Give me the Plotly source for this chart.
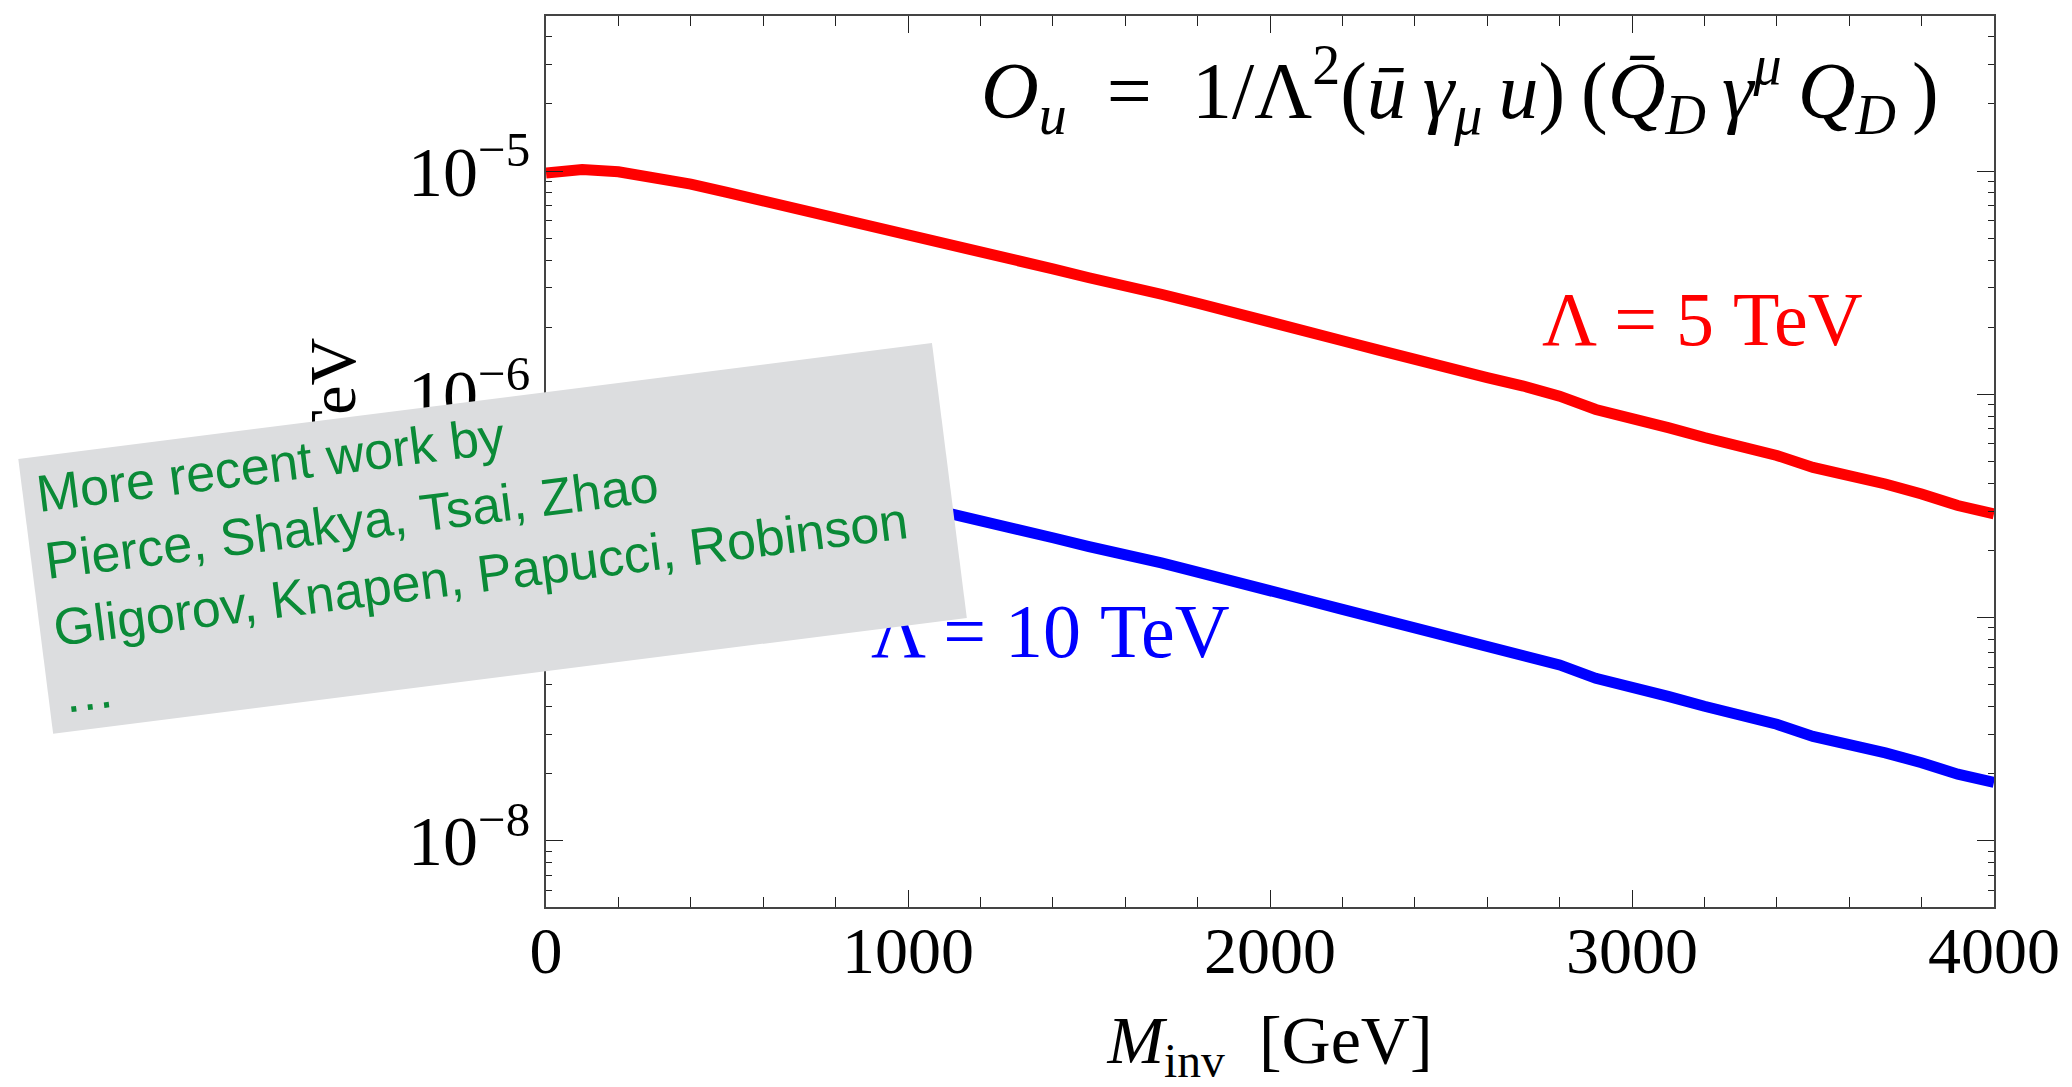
import plotly.graph_objects as go

# ---------------- data ----------------
m_inv = [0, 100, 200, 300, 400, 500, 600, 700, 800, 900, 1000,
         1100, 1200, 1300, 1400, 1500, 1600, 1700, 1800, 1900, 2000,
         2100, 2200, 2300, 2400, 2500, 2600, 2700, 2800, 2900, 3000,
         3100, 3200, 3300, 3400, 3500, 3600, 3700, 3800, 3900, 4000]

rate_5tev = [9.8e-6, 1.017e-5, 9.93e-6, 9.37e-6, 8.75e-6, 8.03e-6, 7.38e-6, 6.77e-6, 6.18e-6, 5.71e-6, 5.24e-6,
             4.76e-6, 4.34e-6, 3.97e-6, 3.65e-6, 3.33e-6, 3.08e-6, 2.81e-6, 2.56e-6, 2.31e-6, 2.12e-6,
             1.92e-6, 1.74e-6, 1.58e-6, 1.43e-6, 1.29e-6, 1.19e-6, 1.09e-6, 9.82e-7, 8.56e-7, 7.86e-7,
             7.10e-7, 6.41e-7, 5.85e-7, 5.33e-7, 4.71e-7, 4.37e-7, 3.97e-7, 3.58e-7, 3.18e-7, 2.92e-7]

rate_10tev = [6.13e-7, 6.36e-7, 6.21e-7, 5.86e-7, 5.47e-7, 5.02e-7, 4.61e-7, 4.23e-7, 3.86e-7, 3.57e-7, 3.28e-7,
              2.98e-7, 2.71e-7, 2.48e-7, 2.28e-7, 2.08e-7, 1.93e-7, 1.76e-7, 1.60e-7, 1.44e-7, 1.33e-7,
              1.20e-7, 1.09e-7, 9.88e-8, 8.94e-8, 8.06e-8, 7.44e-8, 6.81e-8, 6.14e-8, 5.35e-8, 4.91e-8,
              4.44e-8, 4.01e-8, 3.66e-8, 3.33e-8, 2.94e-8, 2.73e-8, 2.48e-8, 2.24e-8, 1.99e-8, 1.83e-8]

x_tickvals = [0, 1000, 2000, 3000, 4000]
y_tickvals = [1e-8, 1e-7, 1e-6, 1e-5]
y_ticktext = ["10<sup>\u22128</sup>", "10<sup>\u22127</sup>", "10<sup>\u22126</sup>", "10<sup>\u22125</sup>"]

label_5 = "\u039b = 5 TeV"
label_10 = "\u039b = 10 TeV"
TS = "\u2009"   # thin space
formula = ("<i>O</i><sub><i>u</i></sub>\u2002=\u20021/\u039b<sup>2</sup>(<i>\u016b</i>" + TS +
           "<i>\u03b3</i><sub><i>\u03bc</i></sub>" + TS + "<i>u</i>)" + TS +
           "(<i>Q\u0304</i><sub><i>D</i></sub>" + TS + "<i>\u03b3</i><sup><i>\u03bc</i></sup>" + TS +
           "<i>Q</i><sub><i>D</i></sub>" + TS + ")")
y_title = "\u03c3 in pb/TeV"
x_title = "<i>M</i><sub>inv</sub>  [GeV]"
note_text = ("More recent work by<br>Pierce, Shakya, Tsai, Zhao<br>"
             "Gligorov, Knapen, Papucci, Robinson<br>\u2026")

SERIF = "Liberation Serif, Times New Roman, serif"
SANS = "Liberation Sans, Arial, Helvetica, sans-serif"

fig = go.Figure()
fig.add_trace(go.Scatter(x=m_inv, y=rate_5tev, mode="lines",
                         line=dict(color="#ff0000", width=11), showlegend=False))
fig.add_trace(go.Scatter(x=m_inv, y=rate_10tev, mode="lines",
                         line=dict(color="#0000ff", width=11), showlegend=False))

axis_common = dict(showline=True, linecolor="#444444", linewidth=1.5, mirror="ticks",
                   ticks="inside", tickcolor="#222222", tickwidth=1.3, showgrid=False,
                   zeroline=False)

fig.update_xaxes(range=[0, 4000], tickvals=x_tickvals, ticklen=17,
                 tickfont=dict(family=SERIF, size=66, color="black"),
                 minor=dict(dtick=200, tick0=0, ticks="inside", ticklen=10,
                            tickcolor="#222222", tickwidth=1.2, showgrid=False),
                 ticklabelstandoff=-15,
                 title=dict(text=x_title, font=dict(family=SERIF, size=68, color="black"), standoff=40),
                 **axis_common)
fig.update_yaxes(type="log", range=[-8.296, -4.305], tickvals=y_tickvals, ticktext=y_ticktext,
                 ticklen=17, tickfont=dict(family=SERIF, size=70, color="black"),
                 minor=dict(dtick="D1", ticks="inside", ticklen=6,
                            tickcolor="#222222", tickwidth=1.2, showgrid=False),
                 ticklabelstandoff=0,
                 **axis_common)

annotations = [
    dict(text=y_title, xref="paper", yref="paper", x=-0.1471, y=0.6417,
         xanchor="center", yanchor="top", textangle=-90, showarrow=False,
         font=dict(family=SERIF, size=66, color="black")),
    dict(text=label_5, xref="paper", yref="paper", x=0.7988, y=0.6596,
         xanchor="center", yanchor="middle", showarrow=False,
         font=dict(family=SERIF, size=76, color="#ff0000")),
    dict(text=label_10, xref="paper", yref="paper", x=0.3487, y=0.3103,
         xanchor="center", yanchor="middle", showarrow=False,
         font=dict(family=SERIF, size=76, color="#0000ff")),
    dict(text=formula, xref="paper", yref="paper", x=0.9635, y=0.917,
         xanchor="right", yanchor="middle", showarrow=False,
         font=dict(family=SERIF, size=80, color="black")),
    dict(text=note_text, xref="paper", yref="paper", x=-0.0372, y=0.4141,
         xanchor="center", yanchor="middle", showarrow=False, textangle=-7.23,
         align="left", valign="middle", width=893, height=249, borderpad=14,
         bgcolor="#dcdddf", borderwidth=0,
         font=dict(family=SANS, size=52, color="#0a8a37")),
]

fig.update_layout(width=2072, height=1087, autosize=False,
                  margin=dict(l=546, r=75, t=16, b=175, pad=0),
                  paper_bgcolor="white", plot_bgcolor="white",
                  annotations=annotations, showlegend=False)

fig.write_html("out.html", config={"displayModeBar": False},
               post_script="document.body.style.margin='0';document.body.style.overflow='hidden';")
